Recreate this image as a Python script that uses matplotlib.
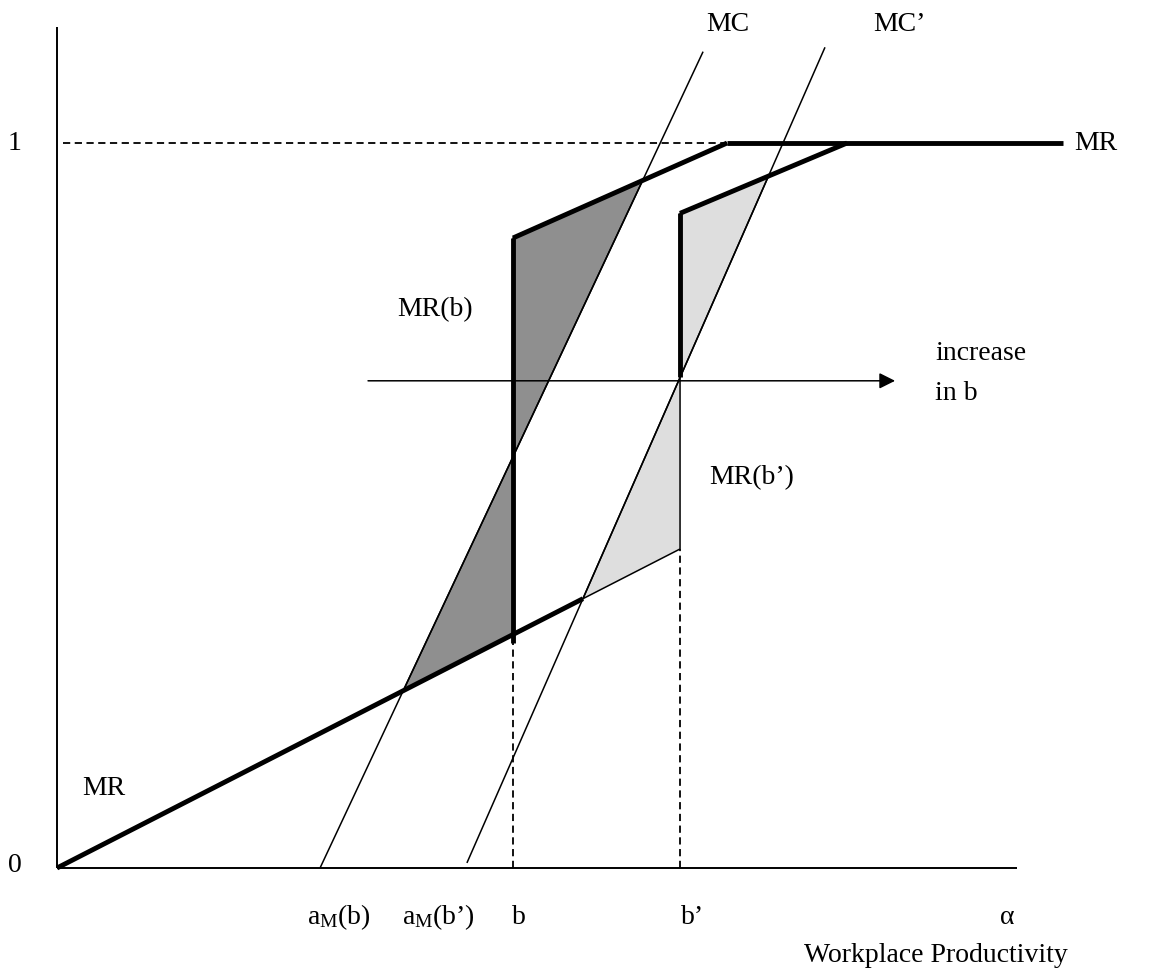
import matplotlib
matplotlib.use('Agg')
import matplotlib.pyplot as plt
from matplotlib.patches import Polygon

plt.rcParams['font.family'] = ['Liberation Serif', 'DejaVu Serif']
plt.rcParams['mathtext.fontset'] = 'custom'
plt.rcParams['mathtext.rm'] = 'Liberation Serif'
plt.rcParams['mathtext.it'] = 'Liberation Serif:italic'

# ---------------- data (alpha on x, MR/MC value on y) ----------------
b_val = 0.475            # threshold b
bp_val = 0.649           # threshold b'
lower_slope = 0.678      # slope of lower MR line through origin
upper_b_x = [0.475, 0.698]   # upper MR(b) segment
upper_b_y = [0.869, 1.0]
upper_bp_x = [0.649, 0.823]  # upper MR(b') segment
upper_bp_y = [0.903, 1.0]
mr_flat_x = [0.698, 1.048]   # MR = 1 segment
mr_flat_y = [1.0, 1.0]
mc_x = [0.274, 0.673]        # MC line
mc_y = [0.0, 1.126]
mcp_x = [0.427, 0.800]       # MC' line
mcp_y = [0.007, 1.132]
arrow_y = 0.672
arrow_x = [0.324, 0.873]
y_axis_top = 1.16

W, H = 1149, 973
fig = plt.figure(figsize=(W / 100, H / 100), dpi=100)
ax = fig.add_axes([57 / W, (H - 868) / H, 960 / W, 725 / H])
ax.set_xlim(0, 1)
ax.set_ylim(0, 1)
ax.axis('off')


def line_fn(xs, ys):
    m = (ys[1] - ys[0]) / (xs[1] - xs[0])
    return m, (lambda x: ys[0] + m * (x - xs[0]))


def intersect(m1, f1, m2, f2):
    x = (f2(0) - f1(0)) / (m1 - m2)
    return x, f1(x)


m_mc, mc = line_fn(mc_x, mc_y)
m_mcp, mcp = line_fn(mcp_x, mcp_y)
m_low, low = lower_slope, (lambda x: lower_slope * x)
m_ub, ub = line_fn(upper_b_x, upper_b_y)
m_ubp, ubp = line_fn(upper_bp_x, upper_bp_y)

P1 = intersect(m_mc, mc, m_low, low)
P3 = intersect(m_mc, mc, m_ub, ub)
Q1 = intersect(m_mcp, mcp, m_low, low)
Q3 = intersect(m_mcp, mcp, m_ubp, ubp)

dark = '#8f8f8f'
light = '#dedede'
thin = 1.1
thick = 3.5

# shaded regions
polys = [
    ([P1, (b_val, low(b_val)), (b_val, mc(b_val))], dark),
    ([(b_val, mc(b_val)), (b_val, upper_b_y[0]), P3], dark),
    ([Q1, (bp_val, low(bp_val)), (bp_val, mcp(bp_val))], light),
    ([(bp_val, mcp(bp_val)), (bp_val, upper_bp_y[0]), Q3], light),
]
for pts, col in polys:
    ax.add_patch(Polygon(pts, closed=True, facecolor=col, edgecolor='black',
                         linewidth=thin, zorder=1, clip_on=False))

kw = dict(color='black', clip_on=False, solid_capstyle='butt')

# axes
ax.plot([0, 0], [0, y_axis_top], lw=1.4, zorder=3, **kw)
ax.plot([0, 1], [0, 0], lw=1.4, zorder=3, **kw)

# dashed guides
dash = (0, (4, 2.5))
ax.plot([0.006, mr_flat_x[0]], [1, 1], lw=1.3, ls=dash, color='black', clip_on=False)
ax.plot([b_val, b_val], [0, low(b_val) - 0.012], lw=1.3, ls=dash, color='black', clip_on=False)
ax.plot([bp_val, bp_val], [0, low(bp_val)], lw=1.3, ls=dash, color='black', clip_on=False)

# MC and MC'
ax.plot(mc_x, mc_y, lw=thin, zorder=3, **kw)
ax.plot(mcp_x, mcp_y, lw=thin, zorder=3, **kw)

# thick MR pieces
ax.plot([0, Q1[0]], [0, Q1[1]], lw=thick, zorder=4, **kw)
ax.plot([b_val, b_val], [upper_b_y[0], low(b_val) - 0.012], lw=thick, zorder=4, **kw)
ax.plot(upper_b_x, upper_b_y, lw=thick, zorder=4, **kw)
ax.plot(mr_flat_x, mr_flat_y, lw=thick, zorder=4, **kw)
ax.plot(upper_bp_x, upper_bp_y, lw=thick, zorder=4, **kw)
ax.plot([bp_val, bp_val], [upper_bp_y[0], mcp(bp_val)], lw=thick, zorder=4, **kw)

# arrow
ax.annotate('', xy=(arrow_x[1], arrow_y), xytext=(arrow_x[0], arrow_y),
            arrowprops=dict(arrowstyle='-|>', lw=1.1, color='black',
                            mutation_scale=24, shrinkA=0, shrinkB=0),
            annotation_clip=False, zorder=5)

fs = 20
txt = dict(fontsize=fs, ha='center', va='center', color='black')
ax.text(-0.044, 1.0, '1', **txt)
ax.text(-0.044, 0.004, '0', **txt)
ax.text(0.049, 0.11, 'MR', **txt)
ax.text(0.699, 1.163, 'MC', **txt)
ax.text(0.878, 1.163, 'MC\u2019', **txt)
ax.text(1.082, 1.0, 'MR', **txt)
ax.text(0.394, 0.770, 'MR(b)', **txt)
ax.text(0.724, 0.538, 'MR(b\u2019)', **txt)
ax.text(0.915, 0.710, 'increase', fontsize=fs, ha='left', va='center')
ax.text(0.915, 0.655, 'in b', fontsize=fs, ha='left', va='center')

xlab_y = -0.068
ax.text(0.294, xlab_y, 'a$_{\\mathregular{M}}$(b)', **txt)
ax.text(0.397, xlab_y, 'a$_{\\mathregular{M}}$(b\u2019)', **txt)
ax.text(0.481, xlab_y, 'b', **txt)
ax.text(0.6625, xlab_y, 'b\u2019', **txt)
ax.text(0.99, xlab_y, '\u03b1', **txt)
ax.text(0.915, -0.12, 'Workplace Productivity', **txt)

fig.savefig('out.png', dpi=100)
